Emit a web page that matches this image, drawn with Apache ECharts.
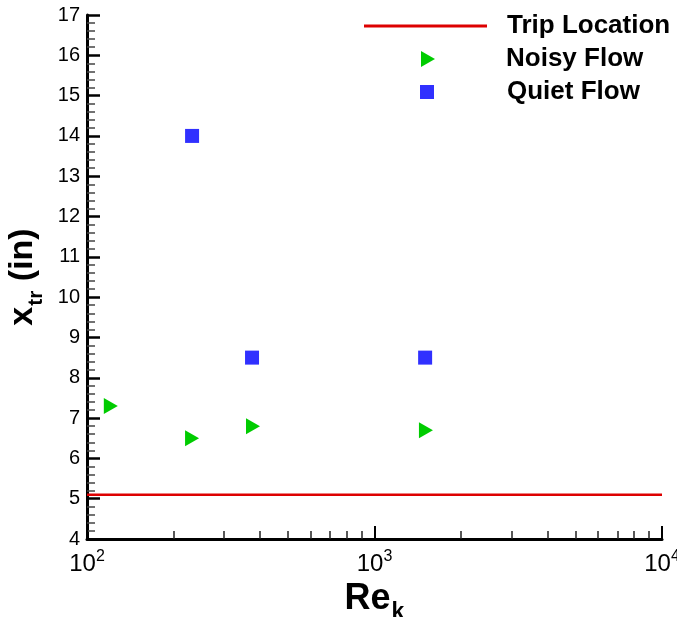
<!DOCTYPE html>
<html>
<head>
<meta charset="utf-8">
<script src="https://cdn.jsdelivr.net/npm/echarts@6/dist/echarts.min.js"></script>
<style>
  html, body { margin: 0; padding: 0; background: #fff; }
  #chart { width: 677px; height: 617px; }
</style>
</head>
<body>
<div id="chart"></div>
<script>
// Re_k 值与转捩位置 (in)
const tripX = [100, 10000];
const tripY = [5.1, 5.1];
const noisyRe = [121, 232, 378, 1510];
const noisyX = [7.3, 6.5, 6.8, 6.7];
const quietRe = [232, 375, 1500];
const quietX = [14, 8.5, 8.5];
const xMajorTicks = [100, 1000, 10000];
const xMinorTicks = [200, 300, 400, 500, 600, 700, 800, 900,
  2000, 3000, 4000, 5000, 6000, 7000, 8000, 9000];

const font = 'Liberation Sans, Arial, sans-serif';
const pair = (xs, ys) => xs.map((x, i) => [x, ys[i]]);
const legendText = (pad, top) => ({
  fontFamily: font, fontWeight: 'bold', fontSize: 26, lineHeight: 26,
  color: '#000', padding: [top, 0, 0, pad]
});

const chart = echarts.init(document.getElementById('chart'));
chart.setOption({
  animation: false,
  grid: { left: 87, right: 15, top: 15, bottom: 78, containLabel: false, outerBoundsMode: 'none' },
  legend: [{
    left: 359, top: 8,
    itemWidth: 123, itemHeight: 3,
    textStyle: legendText(15, 0),
    data: [{ name: 'Trip Location', icon: 'rect' }]
  }, {
    left: 416, top: 39,
    itemWidth: 14, itemHeight: 16,
    textStyle: legendText(66, 4),
    data: [{ name: 'Noisy Flow', icon: 'path://M0,0L14,8L0,16Z' }]
  }, {
    left: 415, top: 72,
    itemWidth: 14, itemHeight: 14,
    textStyle: legendText(68, 4),
    data: [{ name: 'Quiet Flow', icon: 'rect' }]
  }],
  xAxis: [{
    type: 'log',
    logBase: 10,
    min: 100,
    max: 10000,
    name: '{a|Re}{k|k}',
    nameLocation: 'middle',
    nameGap: 30,
    nameTextStyle: {
      rich: {
        a: { fontFamily: font, fontWeight: 'bold', fontSize: 36, lineHeight: 40, color: '#000' },
        k: { fontFamily: font, fontWeight: 'bold', fontSize: 23, lineHeight: 23, color: '#000', verticalAlign: 'bottom', padding: [0, 0, -5, 1] }
      }
    },
    axisLine: { show: true, lineStyle: { color: '#000', width: 3 } },
    axisTick: { show: true, inside: true, length: 13, lineStyle: { color: '#000', width: 2 }, customValues: xMajorTicks },
    splitLine: { show: false },
    axisLabel: {
      margin: 10,
      customValues: xMajorTicks,
      formatter: v => '{b|10}{s|' + Math.round(Math.log10(v)) + '}',
      rich: {
        b: { fontFamily: font, fontSize: 24, lineHeight: 30, color: '#000' },
        s: { fontFamily: font, fontSize: 16, lineHeight: 16, color: '#000', verticalAlign: 'top' }
      }
    }
  }, {
    type: 'log',
    logBase: 10,
    min: 100,
    max: 10000,
    position: 'bottom',
    axisLine: { show: false },
    axisLabel: { show: false },
    splitLine: { show: false },
    axisTick: { show: true, inside: true, length: 8, lineStyle: { color: '#222', width: 1.5 }, customValues: xMinorTicks }
  }],
  yAxis: {
    type: 'value',
    min: 4,
    max: 17,
    interval: 1,
    name: '{a|x}{b|tr}{a| (in)}',
    nameLocation: 'middle',
    nameRotate: 90,
    nameGap: 44,
    nameTextStyle: {
      rich: {
        a: { fontFamily: font, fontWeight: 'bold', fontSize: 34, lineHeight: 38, color: '#000' },
        b: { fontFamily: font, fontWeight: 'bold', fontSize: 21, lineHeight: 21, color: '#000', verticalAlign: 'bottom', padding: [0, 0, -5, 1] }
      }
    },
    axisLine: { show: true, lineStyle: { color: '#000', width: 3 } },
    axisTick: { show: true, inside: true, length: 13, lineStyle: { color: '#000', width: 2.5 } },
    minorTick: { show: true, splitNumber: 5, length: 8, lineStyle: { color: '#444', width: 1.5 } },
    splitLine: { show: false },
    axisLabel: { margin: 7, fontFamily: font, fontSize: 20, color: '#000' }
  },
  series: [{
    name: 'Trip Location',
    type: 'line',
    data: pair(tripX, tripY),
    symbol: 'none',
    lineStyle: { color: '#dd0000', width: 2.5 },
    itemStyle: { color: '#dd0000' }
  }, {
    name: 'Noisy Flow',
    type: 'scatter',
    data: pair(noisyRe, noisyX),
    symbol: 'triangle',
    symbolSize: [16, 14],
    symbolRotate: -90,
    itemStyle: { color: '#00cc00', opacity: 1 }
  }, {
    name: 'Quiet Flow',
    type: 'scatter',
    data: pair(quietRe, quietX),
    symbol: 'rect',
    symbolSize: 14,
    itemStyle: { color: '#3030ff', opacity: 1 }
  }]
});
</script>
</body>
</html>
